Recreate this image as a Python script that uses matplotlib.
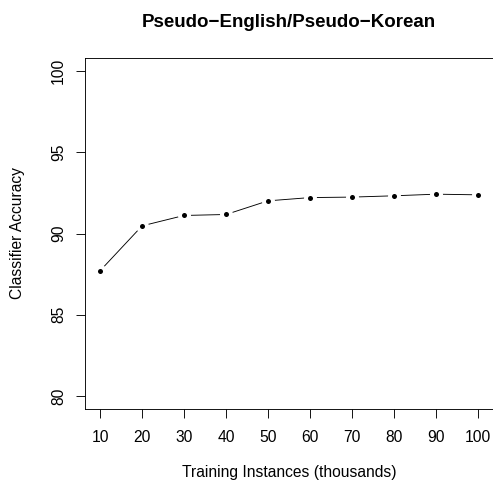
import matplotlib
matplotlib.use("Agg")
import matplotlib.pyplot as plt

plt.rcParams['font.family'] = ['Liberation Sans', 'DejaVu Sans']

# training set size (thousands) and accuracy at each size
instances = [10, 20, 30, 40, 50, 60, 70, 80, 90, 100]
accuracy = [87.71, 90.47, 91.11, 91.17, 92.01, 92.21, 92.24, 92.32, 92.42, 92.38]
yticks = [80, 85, 90, 95, 100]

W, H = 493, 483
fig = plt.figure(figsize=(W / 72, H / 72), dpi=72)
ax = fig.add_axes([85 / W, 1 - 409 / H, 408 / W, 351 / H])

# R-style type="b": line with gaps around the points
ax.plot(instances, accuracy, color='black', lw=0.9, zorder=1)
ax.plot(instances, accuracy, 'o', color='white', ms=13, mew=0, zorder=2)
ax.plot(instances, accuracy, 'o', color='black', ms=5, mew=0, zorder=3)

ax.set_xlim(6.4, 103.6)
ax.set_ylim(79.2, 100.8)
ax.set_xticks(instances)
ax.set_yticks(yticks)
ax.tick_params(direction='out', length=9, width=0.9, labelsize=15.6)
ax.tick_params(axis='x', pad=12)
ax.tick_params(axis='y', pad=10)
for lab in ax.get_yticklabels():
    lab.set_rotation(90)
    lab.set_va('center')
for s in ax.spines.values():
    s.set_linewidth(0.9)

fig.text(289 / W, 1 - 473 / H, 'Training Instances (thousands)',
         fontsize=15.6, ha='center', va='center')
fig.text(18 / W, 1 - 233 / H, 'Classifier Accuracy', fontsize=15.6,
         rotation=90, ha='center', va='center')
fig.text(289 / W, 1 - 27 / H, 'Pseudo\u2212English/Pseudo\u2212Korean',
         fontsize=18.7, fontweight='bold', ha='center', va='baseline')

fig.savefig('out.png', dpi=72)
